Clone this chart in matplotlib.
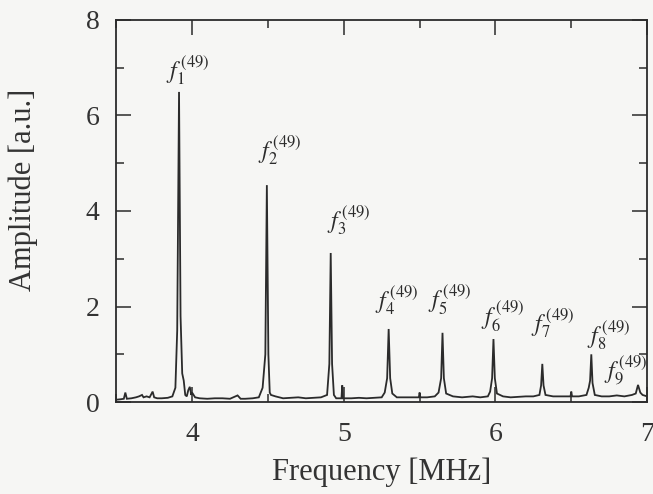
import matplotlib
matplotlib.use("Agg")
import matplotlib.pyplot as plt
from matplotlib.ticker import MultipleLocator

plt.rcParams['font.family'] = ['Liberation Serif', 'DejaVu Serif']
plt.rcParams['mathtext.fontset'] = 'stix'

# Spectrum (frequency in MHz, amplitude in a.u.)
freq = [
    3.50, 3.53, 3.55, 3.56, 3.57, 3.60, 3.63, 3.65, 3.67, 3.68, 3.70, 3.72, 3.74, 3.75, 3.77, 3.80, 3.84, 3.87,
    3.89, 3.902, 3.914, 3.924, 3.935, 3.945, 3.955, 3.965, 3.975, 3.985, 3.995, 4.00, 4.02, 4.05, 4.10, 4.15,
    4.20, 4.25, 4.30, 4.32, 4.35, 4.40, 4.44,
    4.465, 4.483, 4.493, 4.503, 4.512, 4.52, 4.55, 4.60, 4.65, 4.70, 4.75, 4.80, 4.85, 4.89,
    4.905, 4.914, 4.923, 4.935, 4.95, 4.985, 4.99, 4.995, 5.05, 5.10, 5.15, 5.20, 5.25, 5.27,
    5.286, 5.296, 5.306, 5.32, 5.35, 5.40, 5.45, 5.495, 5.50, 5.505, 5.55, 5.60, 5.625,
    5.642, 5.651, 5.660, 5.675, 5.72, 5.78, 5.85, 5.90, 5.95, 5.965,
    5.978, 5.987, 5.996, 6.01, 6.05, 6.10, 6.15, 6.20, 6.25, 6.29,
    6.301, 6.309, 6.317, 6.33, 6.38, 6.45, 6.495, 6.50, 6.505, 6.55, 6.60,
    6.615, 6.624, 6.632, 6.640, 6.655, 6.70, 6.75, 6.80, 6.85, 6.90, 6.925,
    6.94, 6.955, 6.97, 7.00,
]
amp = [
    0.05, 0.06, 0.07, 0.20, 0.07, 0.08, 0.10, 0.12, 0.15, 0.10, 0.12, 0.10, 0.22, 0.10, 0.08, 0.08, 0.09, 0.12,
    0.30, 1.50, 6.49, 1.80, 0.60, 0.45, 0.15, 0.12, 0.25, 0.32, 0.15, 0.20, 0.10, 0.08, 0.07, 0.08,
    0.08, 0.07, 0.14, 0.07, 0.07, 0.08, 0.10,
    0.30, 1.00, 4.54, 1.00, 0.20, 0.15, 0.12, 0.08, 0.09, 0.10, 0.08, 0.09, 0.10, 0.15,
    0.80, 3.12, 0.80, 0.15, 0.08, 0.08, 0.35, 0.08, 0.08, 0.09, 0.08, 0.09, 0.10, 0.20,
    0.50, 1.53, 0.50, 0.18, 0.10, 0.10, 0.10, 0.10, 0.20, 0.10, 0.10, 0.12, 0.20,
    0.50, 1.45, 0.50, 0.18, 0.12, 0.10, 0.12, 0.10, 0.12, 0.22,
    0.50, 1.32, 0.50, 0.18, 0.12, 0.10, 0.11, 0.12, 0.12, 0.15,
    0.35, 0.80, 0.35, 0.15, 0.12, 0.12, 0.12, 0.22, 0.12, 0.12, 0.15,
    0.30, 0.45, 1.00, 0.40, 0.15, 0.12, 0.12, 0.14, 0.12, 0.15, 0.18,
    0.36, 0.20, 0.15, 0.12,
]

# Peak labels f_n^(49) and their anchor points (left, bottom)
peak_names = [r'$f_{1}^{\,(49)}$', r'$f_{2}^{\,(49)}$', r'$f_{3}^{\,(49)}$', r'$f_{4}^{\,(49)}$',
              r'$f_{5}^{\,(49)}$', r'$f_{6}^{\,(49)}$', r'$f_{7}^{\,(49)}$', r'$f_{8}^{\,(49)}$',
              r'$f_{9}^{\,(49)}$']
label_x = [3.829, 4.434, 4.888, 5.204, 5.553, 5.908, 6.237, 6.605, 6.717]
label_y = [6.60, 4.92, 3.46, 1.78, 1.78, 1.43, 1.30, 1.05, 0.32]

x_ticks = [4, 5, 6, 7]
y_ticks = [0, 2, 4, 6, 8]

ink = '#2b2b2b'
bg = '#f6f6f4'

fig = plt.figure(figsize=(6.53, 4.94), dpi=100, facecolor=bg)
ax = fig.add_subplot(111, facecolor=bg)
fig.subplots_adjust(left=0.178, right=0.991, top=0.960, bottom=0.186)

ax.plot(freq, amp, color=ink, lw=1.3, solid_joinstyle='miter')

for name, lx, ly in zip(peak_names, label_x, label_y):
    ax.text(lx, ly, name, fontsize=17, color=ink, ha='left', va='bottom')

ax.set_xlim(3.5, 7.0)
ax.set_ylim(0, 8)
ax.set_xticks(x_ticks)
ax.set_yticks(y_ticks)
ax.xaxis.set_minor_locator(MultipleLocator(0.5))
ax.yaxis.set_minor_locator(MultipleLocator(1))
ax.tick_params(which='both', direction='in', top=True, right=True, color=ink, width=1.1)
ax.tick_params(which='major', length=11, labelsize=20, labelcolor='#333333')
ax.tick_params(which='minor', length=6)
ax.tick_params(axis='y', pad=12)
ax.tick_params(axis='x', pad=14)
for s in ax.spines.values():
    s.set_color(ink)
    s.set_linewidth(1.3)

ax.set_xlabel('Frequency [MHz]', fontsize=22, color='#333333', labelpad=8)
ax.set_ylabel('Amplitude [a.u.]', fontsize=22, color='#333333')
ax.yaxis.set_label_coords(-0.148, 0.555)

fig.savefig('out.png', dpi=100, facecolor=bg)
